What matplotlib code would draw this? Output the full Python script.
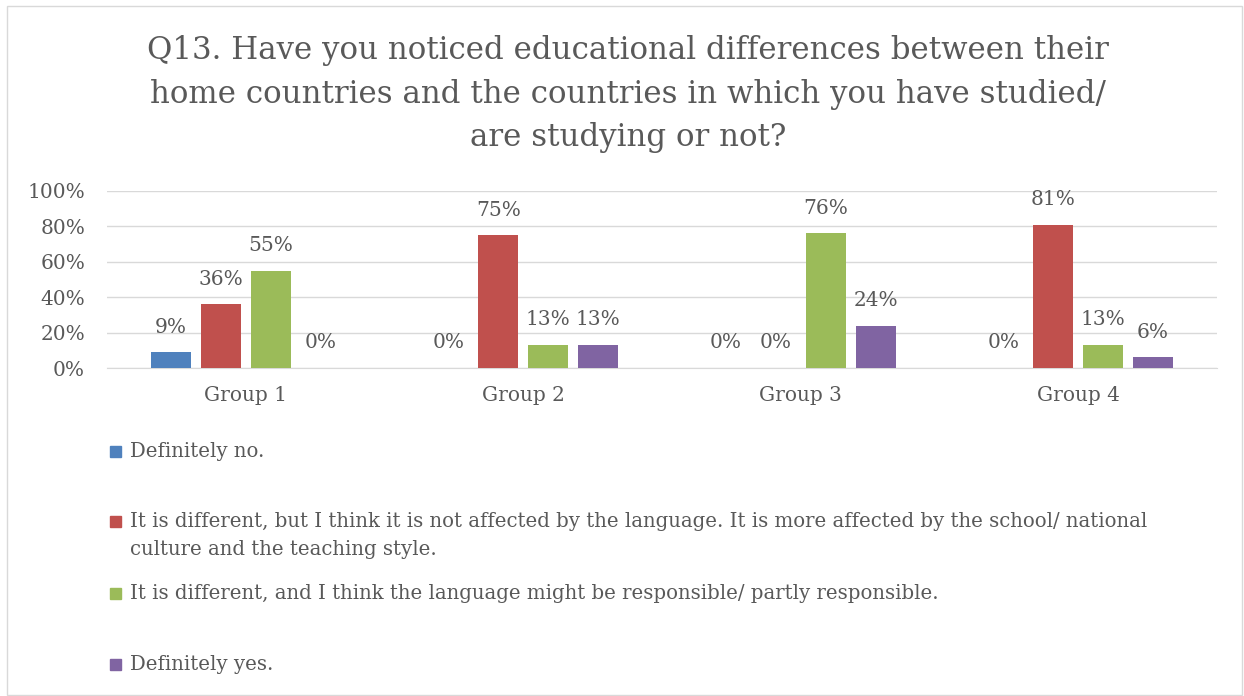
"""
Q13 survey chart: clustered bars per group with an Excel-style legend below.
"""
import numpy as np
import matplotlib.pyplot as plt
from matplotlib.patches import Rectangle

groups = ['Group 1', 'Group 2', 'Group 3', 'Group 4']
answers = [
    'Definitely no.',
    'It is different, but I think it is not affected by the language. It is more affected by the school/ national\nculture and the teaching style.',
    'It is different, and I think the language might be responsible/ partly responsible.',
    'Definitely yes.',
]
definitely_no = [9, 0, 0, 0]
not_language = [36, 75, 0, 81]
maybe_language = [55, 13, 76, 13]
definitely_yes = [0, 13, 24, 6]
yticks = [0, 20, 40, 60, 80, 100]

colors = ['#4F81BD', '#C0504D', '#9BBB59', '#8064A2']
TEXT = '#595959'
GRID = '#D9D9D9'

plt.rcParams['font.family'] = ['DejaVu Serif']

W, H = 1244, 696
fig = plt.figure(figsize=(W / 100, H / 100), dpi=100)

# outer chart border
fig.patches.append(Rectangle((7 / W, 1 - 695 / H), 1235 / W, 689 / H,
                             transform=fig.transFigure, fill=False,
                             edgecolor=GRID, linewidth=1))

ax = fig.add_axes([107.3 / W, 1 - 368 / H, 1109.4 / W, 177 / H])

series = [definitely_no, not_language, maybe_language, definitely_yes]
x = np.arange(len(groups))
width = 0.144
offsets = [-0.27, -0.09, 0.09, 0.27]
for vals, off, col in zip(series, offsets, colors):
    bars = ax.bar(x + off, vals, width, color=col, zorder=3)
    for b, v in zip(bars, vals):
        ax.annotate(f'{v}%', (b.get_x() + b.get_width() / 2, v),
                    xytext=(0, 18), textcoords='offset points',
                    ha='center', va='center', fontsize=14.5, color=TEXT)

ax.set_xlim(-0.5, len(groups) - 0.5)
ax.set_ylim(0, 100)
ax.set_yticks(yticks)
ax.set_yticklabels([f'{t}%' for t in yticks])
ax.set_xticks(x)
ax.set_xticklabels(groups)
ax.tick_params(axis='both', length=0, labelsize=14.5, colors=TEXT)
ax.tick_params(axis='x', pad=13)
ax.tick_params(axis='y', pad=16)
ax.grid(axis='y', color=GRID, linewidth=1, zorder=0)
for s in ['top', 'right', 'left']:
    ax.spines[s].set_visible(False)
ax.spines['bottom'].set_color(GRID)

fig.text(628 / W, 1 - 94 / H,
         'Q13. Have you noticed educational differences between their\n'
         'home countries and the countries in which you have studied/\n'
         'are studying or not?',
         ha='center', va='center', fontsize=22.2, color=TEXT, linespacing=1.54)

# legend drawn by hand to keep Excel's uneven spacing
legend_y = [451, 521, 593, 664]
for lbl, col, yy in zip(answers, colors, legend_y):
    fig.patches.append(Rectangle((110 / W, 1 - (yy + 5.5) / H), 11 / W, 11 / H,
                                 transform=fig.transFigure, color=col))
    fig.text(130 / W, 1 - (yy - 9) / H, lbl, ha='left', va='top',
             fontsize=14.2, color=TEXT, linespacing=1.6)

fig.savefig('out.png', dpi=100)
